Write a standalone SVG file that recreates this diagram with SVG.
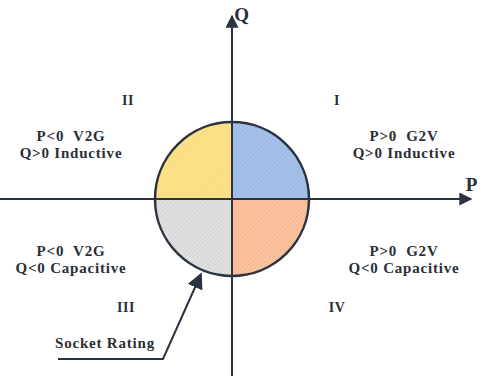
<svg xmlns="http://www.w3.org/2000/svg" width="484" height="376" viewBox="0 0 484 376">
<style>
.ax{stroke:#2a3340;stroke-width:2;fill:none}
.t{font-family:"Liberation Serif","DejaVu Serif",serif;font-weight:bold;font-size:15px;letter-spacing:0.8px;fill:#2a2f36;text-anchor:middle;white-space:pre}
.rn{font-family:"Liberation Serif","DejaVu Serif",serif;font-weight:bold;font-size:14px;letter-spacing:0.5px;fill:#2a2f36;text-anchor:middle}
.q{stroke:#2a3340;stroke-width:2.5}
</style>
<defs>
<marker id="ah" viewBox="0 0 10 10" refX="9" refY="5" markerWidth="6.5" markerHeight="6.5" orient="auto" markerUnits="strokeWidth"><path d="M0,0 L10,5 L0,10 z" fill="#2a3340"/></marker>
<marker id="ah2" viewBox="0 0 10 10" refX="9" refY="5" markerWidth="8" markerHeight="8" orient="auto" markerUnits="strokeWidth"><path d="M0,0 L10,5 L0,10 z" fill="#2a3340"/></marker>
<pattern id="hb" width="3" height="3" patternUnits="userSpaceOnUse" patternTransform="rotate(45)"><rect width="3" height="3" fill="#a7c2ea"/><line x1="0" y1="0" x2="0" y2="3" stroke="#8aa9d8" stroke-width="1"/></pattern>
<pattern id="hy" width="3" height="3" patternUnits="userSpaceOnUse" patternTransform="rotate(45)"><rect width="3" height="3" fill="#fde28e"/><line x1="0" y1="0" x2="0" y2="3" stroke="#f5cf62" stroke-width="1"/></pattern>
<pattern id="hg" width="3" height="3" patternUnits="userSpaceOnUse" patternTransform="rotate(45)"><rect width="3" height="3" fill="#e1e1e1"/><line x1="0" y1="0" x2="0" y2="3" stroke="#c6c6c6" stroke-width="1"/></pattern>
<pattern id="ho" width="3" height="3" patternUnits="userSpaceOnUse" patternTransform="rotate(45)"><rect width="3" height="3" fill="#fbc4a0"/><line x1="0" y1="0" x2="0" y2="3" stroke="#f2a678" stroke-width="1"/></pattern>
</defs>
<g id="circle">
<path d="M232,199 L232,122 A77,77 0 0 1 309,199 Z" fill="url(#hb)"/>
<path d="M232,199 L155,199 A77,77 0 0 1 232,122 Z" fill="url(#hy)"/>
<path d="M232,199 L232,276 A77,77 0 0 1 155,199 Z" fill="url(#hg)"/>
<path d="M232,199 L309,199 A77,77 0 0 1 232,276 Z" fill="url(#ho)"/>
<circle cx="232" cy="199" r="77" fill="none" class="q"/>
</g>
<g id="connectors">
<line class="ax" x1="232" y1="376" x2="232" y2="16" marker-end="url(#ah)"/>
<line class="ax" x1="0" y1="199" x2="471" y2="199" marker-end="url(#ah)"/>
<polyline class="ax" stroke-width="1.5" points="58,359 163,359 201,274" marker-end="url(#ah2)"/>
</g>
<g id="axis-labels">
<text class="t" x="242" y="21" style="font-size:19px">Q</text>
<text class="t" x="472" y="191" style="font-size:19px">P</text>
</g>
<g id="q1"><text class="rn" x="337" y="105">I</text>
<text class="t" x="404" y="141" xml:space="preserve">P&gt;0  G2V</text><text class="t" x="404" y="158">Q&gt;0 Inductive</text></g>
<g id="q2"><text class="rn" x="128" y="105">II</text>
<text class="t" x="71" y="141" xml:space="preserve">P&lt;0  V2G</text><text class="t" x="71" y="158">Q&gt;0 Inductive</text></g>
<g id="q3"><text class="rn" x="126" y="312">III</text>
<text class="t" x="71" y="256" xml:space="preserve">P&lt;0  V2G</text><text class="t" x="71" y="273">Q&lt;0 Capacitive</text></g>
<g id="q4"><text class="rn" x="337" y="312">IV</text>
<text class="t" x="404" y="256" xml:space="preserve">P&gt;0  G2V</text><text class="t" x="404" y="273">Q&lt;0 Capacitive</text></g>
<g id="socket"><text class="t" x="105" y="348">Socket Rating</text></g>
</svg>
